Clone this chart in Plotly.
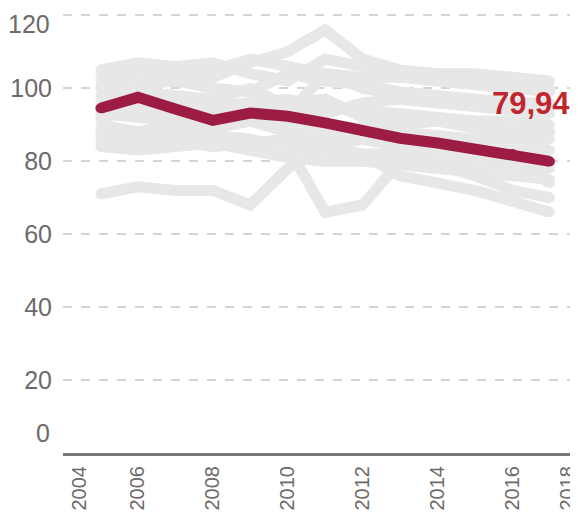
import plotly.graph_objects as go

years = list(range(2005, 2018))

# Highlighted series
highlight = [94.5, 97.5, 94.3, 91.2, 93.2, 92.3, 90.5, 88.3, 86.3, 85.0, 83.3, 82.0, 79.94]

# Background (gray) series, read approximately
gray_series = [
    [101, 104, 104, 103, 107, 110, 116, 108, 105, 104, 104, 103, 102],
    [103, 106, 106, 107, 104, 102, 108, 106, 104, 103, 102, 101, 100],
    [98, 101, 102, 100, 99, 104, 102, 101, 99, 98, 97, 96, 96],
    [96, 99, 97, 95, 96, 97, 95, 94, 93, 92, 91, 91, 90],
    [92, 94, 94, 92, 93, 91, 90, 89, 88, 87, 86, 86, 86],
    [90, 88, 90, 89, 91, 88, 87, 86, 84, 83, 83, 83, 83],
    [87, 86, 85, 87, 86, 84, 83, 82, 82, 80, 80, 79, 78],
    [84, 83, 84, 85, 83, 81, 80, 80, 79, 78, 77, 76, 75],
    [71, 73, 72, 72, 68, 78, 84, 86, 87, 86, 85, 80, 74],
    [88, 86, 88, 87, 86, 84, 66, 68, 80, 79, 76, 72, 70],
    [85, 84, 86, 84, 85, 86, 84, 82, 76, 74, 72, 69, 66],
    [95, 97, 96, 95, 94, 93, 104, 100, 98, 97, 96, 95, 93],
    [100, 99, 98, 97, 100, 95, 93, 96, 97, 96, 95, 94, 93],
    [93, 92, 91, 93, 95, 96, 97, 92, 90, 91, 89, 88, 88],
    [105, 107, 106, 105, 108, 106, 104, 103, 103, 102, 101, 100, 99],
]

x_tick_labels = ["2004", "2006", "2008", "2010", "2012", "2014", "2016", "2018"]
x_tick_pos = [2004.45, 2006, 2008, 2010, 2012, 2014, 2016, 2017.47]
y_ticks = [0, 20, 40, 60, 80, 100, 120]

GRAY = "#e8e7e7"
RED = "#9c1c44"
LABEL_RED = "#c0262d"
TXT = "#6e6a69"
FONT = "Liberation Sans, Arial, sans-serif"

fig = go.Figure()
for s in gray_series:
    fig.add_trace(go.Scatter(
        x=years, y=s, mode="lines+markers",
        line=dict(color=GRAY, width=11),
        marker=dict(color=GRAY, size=10),
        hoverinfo="skip", showlegend=False))

fig.add_trace(go.Scatter(
    x=years, y=highlight, mode="lines+markers",
    line=dict(color=RED, width=11),
    marker=dict(color=RED, size=10),
    showlegend=False))

last_val = highlight[-1]
fig.add_annotation(
    x=years[-1], y=last_val, text=f"<b>{last_val:.2f}</b>".replace(".", ","),
    showarrow=False, xanchor="right", yanchor="middle", xshift=22, yshift=58,
    font=dict(family=FONT, size=31, color=LABEL_RED))

# edge tick labels for y axis (placed inside the frame like the original)
fig.add_annotation(x=0, xref="paper", y=0, yref="y", text="0", showarrow=False,
                   xanchor="right", yanchor="middle", xshift=-11, yshift=20,
                   font=dict(family=FONT, size=25, color=TXT))
fig.add_annotation(x=0, xref="paper", y=120, yref="y", text="120", showarrow=False,
                   xanchor="right", yanchor="middle", xshift=-11, yshift=-9,
                   font=dict(family=FONT, size=25, color=TXT))

fig.update_layout(
    width=570, height=504,
    margin=dict(l=55, r=0, t=0, b=59),
    paper_bgcolor="white", plot_bgcolor="white",
    font=dict(family=FONT, color=TXT),
    xaxis=dict(
        range=[2004, 2017.75], tickmode="array", tickvals=x_tick_pos,
        ticktext=x_tick_labels, tickangle=-90, showgrid=False, zeroline=False,
        showline=True, linecolor="#7a7676", linewidth=3,
        tickfont=dict(family=FONT, size=20, color=TXT), ticks="",
        ticklabelstandoff=2, ticklabeloverflow="allow"),
    yaxis=dict(
        range=[0, 122], tickmode="array", tickvals=y_ticks,
        ticktext=["" if v in (0, 120) else str(v) for v in y_ticks],
        showgrid=True, gridcolor="#d4d4d4", griddash="dash", gridwidth=1.5,
        zeroline=False, showline=False, ticks="",
        tickfont=dict(family=FONT, size=25, color=TXT), ticklabelstandoff=10),
)

fig.write_html("out.html")
